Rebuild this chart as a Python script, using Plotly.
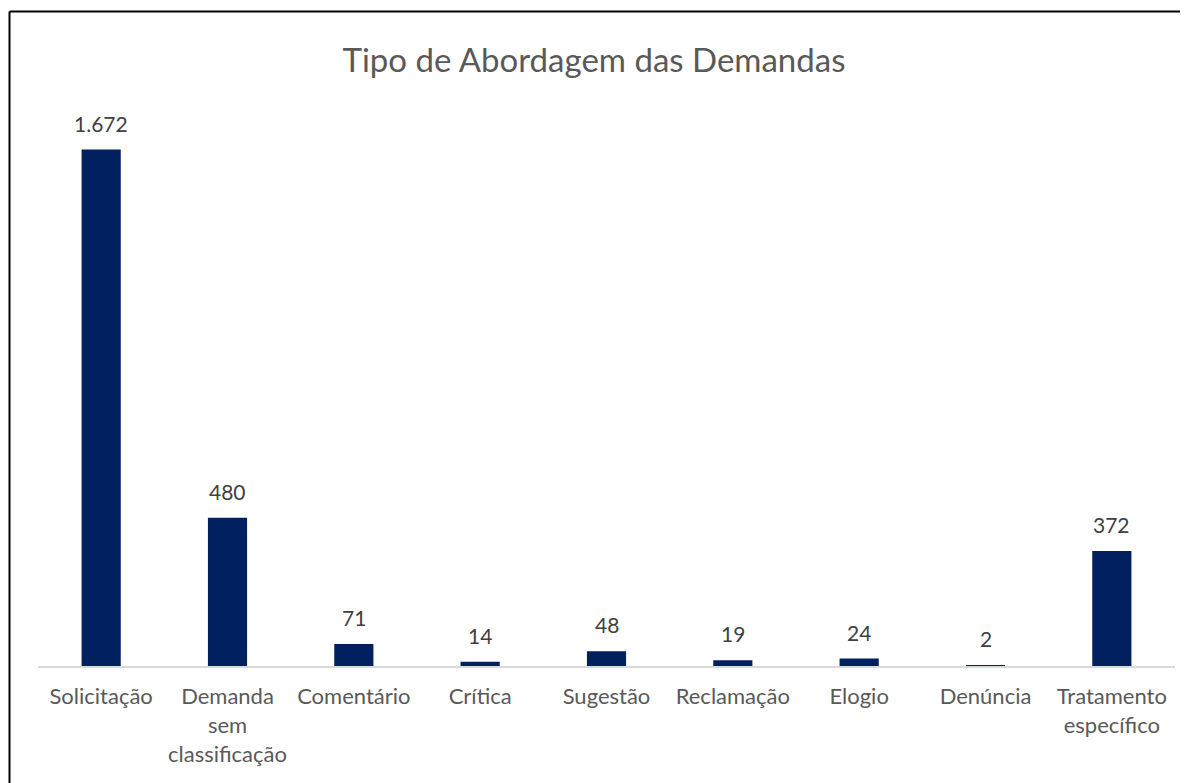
import plotly.graph_objects as go

categories = ["Solicitação", "Demanda<br>sem<br>classificação", "Comentário", "Crítica",
              "Sugestão", "Reclamação", "Elogio", "Denúncia", "Tratamento<br>específico"]
values = [1672, 480, 71, 14, 48, 19, 24, 2, 372]

W, H = 1188, 783
OFF = 8  # page body margin offset
L, R, T, B = 38 - OFF, 13 + OFF, 110 - OFF, 117 + OFF
pw, ph = W - L - R, H - T - B

fig = go.Figure()
fig.add_trace(go.Bar(x=categories, y=values, marker=dict(color="#002060", line=dict(width=0)),
                     width=0.31, hoverinfo="skip"))

for c, v in zip(categories, values):
    fig.add_annotation(x=c, y=v, text=f"{v:,}".replace(",", "."), showarrow=False,
                       yanchor="bottom", yshift=12, font=dict(size=21, color="#404040"))

# chart border (top and left only visible)
xl = (9.5 - OFF - L) / pw
yt = (H - B - (11.5 - OFF)) / ph
fig.add_shape(type="line", xref="paper", yref="paper", x0=xl, x1=xl, y0=-0.5, y1=yt,
              line=dict(color="black", width=2))
fig.add_shape(type="line", xref="paper", yref="paper", x0=xl, x1=1.2, y0=yt, y1=yt,
              line=dict(color="black", width=2))

fig.update_layout(
    width=W, height=H,
    margin=dict(l=L, r=R, t=T, b=B),
    paper_bgcolor="white", plot_bgcolor="white",
    font=dict(family="Lato, sans-serif", color="#404040"),
    title=dict(text="Tipo de Abordagem das Demandas", x=(594 - OFF) / W, xanchor="center",
               y=1 - (60 - OFF) / H, yanchor="middle", font=dict(size=33, color="#595959")),
    showlegend=False,
    bargap=0.69,
)
fig.update_xaxes(showline=True, linecolor="#D9D9D9", linewidth=2, ticks="outside",
                 ticklen=10, tickcolor="rgba(0,0,0,0)", tickfont=dict(size=22, color="#595959"),
                 showgrid=False)
fig.update_yaxes(range=[0, 1800], visible=False, showgrid=False)

fig.write_html("out.html")
